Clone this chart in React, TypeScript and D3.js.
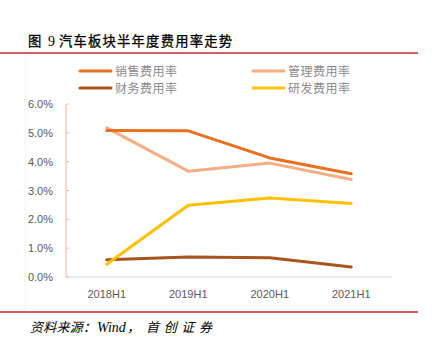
import React from "react";
import * as d3 from "d3";

const categories = ["2018H1", "2019H1", "2020H1", "2021H1"];
const seriesNames = ["销售费用率", "管理费用率", "财务费用率", "研发费用率"];
const sales = [5.08, 5.07, 4.13, 3.58];
const admin = [5.17, 3.67, 3.95, 3.38];
const finance = [0.6, 0.69, 0.67, 0.35];
const rnd = [0.44, 2.49, 2.74, 2.55];
const yTicks = [0, 1, 2, 3, 4, 5, 6];
const colors = ["#E8701E", "#F5AE84", "#A9541D", "#FFC000"];

export default function App() {
  const W = 434, H = 340;
  const x = d3.scaleBand<string>().domain(categories).range([66, 392]);
  const y = d3.scaleLinear().domain([0, 6]).range([277, 104]);
  const data = [sales, admin, finance, rnd];
  const line = d3
    .line<number>()
    .x((_, i) => (x(categories[i]) as number) + x.bandwidth() / 2)
    .y((d) => y(d));
  const legendPos = [
    [80, 71],
    [253, 71],
    [80, 88],
    [253, 88],
  ];
  const drawOrder = [2, 3, 1, 0];
  const cjk = "'Noto Sans CJK SC', sans-serif";
  return (
    <svg width={W} height={H} style={{ position: "absolute", left: 0, top: 0 }}
      fontFamily="'Liberation Sans', 'Noto Sans CJK SC', sans-serif">
      <rect width={W} height={H} fill="#fff" />
      <text x={28} y={45.5} fontSize={13.3} fill="#000" stroke="#000" strokeWidth={0.3} fontFamily={cjk}>图</text>
      <text x={48} y={45.5} fontSize={14} fill="#000" fontFamily="'Liberation Serif', serif">9</text>
      <text x={59} y={45.5} fontSize={13.3} fill="#000" stroke="#000" strokeWidth={0.3} fontFamily={cjk}
        textLength={173} lengthAdjust="spacing">汽车板块半年度费用率走势</text>
      <line x1={0} x2={418} y1={53} y2={53} stroke="#C0282D" strokeWidth={1.5} />
      <line x1={25} x2={25} y1={54} y2={311} stroke="#f2f2f2" strokeWidth={1} />
      {seriesNames.map((n, i) => (
        <g key={n}>
          <line x1={legendPos[i][0]} x2={legendPos[i][0] + 31} y1={legendPos[i][1]} y2={legendPos[i][1]}
            stroke={colors[i]} strokeWidth={3} strokeLinecap="round" />
          <text x={legendPos[i][0] + 35} y={legendPos[i][1] + 4.5} fontSize={12} fill="#8a8a8a"
            fontFamily={cjk} textLength={62} lengthAdjust="spacing">{n}</text>
        </g>
      ))}
      <line x1={66} x2={392} y1={y(0)} y2={y(0)} stroke="#d9d9d9" strokeWidth={1} />
      <line x1={66} x2={66} y1={y(6)} y2={y(0)} stroke="#F5B894" strokeWidth={1} />
      {yTicks.map((t) => (
        <g key={t}>
          <line x1={66} x2={69} y1={y(t)} y2={y(t)} stroke="#F5B894" strokeWidth={1} />
          <text x={53} y={y(t) + 4} fontSize={11} fill="#595959" textAnchor="end">
            {t.toFixed(1) + "%"}
          </text>
        </g>
      ))}
      {categories.map((c) => (
        <text key={c} x={(x(c) as number) + x.bandwidth() / 2} y={298} fontSize={11}
          fill="#595959" textAnchor="middle">{c}</text>
      ))}
      {drawOrder.map((i) => (
        <path key={i} d={line(data[i]) || ""} fill="none" stroke={colors[i]} strokeWidth={3}
          strokeLinejoin="round" strokeLinecap="round" />
      ))}
      <line x1={0} x2={418} y1={312} y2={312} stroke="#C0282D" strokeWidth={1.5} />
      <text x={30} y={332} fontSize={13} fontStyle="italic" fill="#000" fontFamily={cjk}
        textLength={66} lengthAdjust="spacing">资料来源：</text>
      <text x={97} y={332} fontSize={14} fontStyle="italic" fill="#000" fontFamily="'Liberation Serif', serif">Wind</text>
      <text x={127} y={332} fontSize={13} fontStyle="italic" fill="#000" fontFamily={cjk}>，</text>
      <text x={146} y={332} fontSize={13} fontStyle="italic" fill="#000" fontFamily={cjk}
        textLength={66} lengthAdjust="spacing">首创证券</text>
    </svg>
  );
}
